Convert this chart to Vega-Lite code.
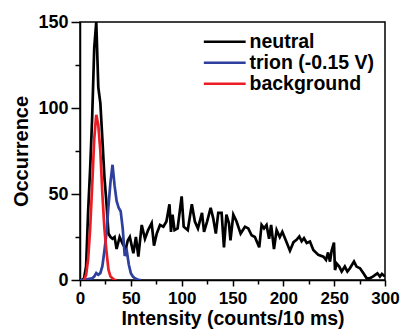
{
  "$schema": "https://vega.github.io/schema/vega-lite/v6.json",
  "width": 305,
  "height": 258,
  "autosize": {"type": "none"},
  "padding": {"left": 80, "top": 22, "right": 16, "bottom": 52},
  "background": "white",
  "config": {
    "font": "Liberation Sans",
    "view": {"stroke": "black", "strokeWidth": 1.5},
    "axis": {
      "domainColor": "black", "domainWidth": 1.5, "tickColor": "black", "tickWidth": 1.5,
      "labelColor": "black", "labelFont": "Liberation Sans", "labelFontWeight": "bold", "labelFontSize": 18,
      "titleColor": "black", "titleFont": "Liberation Sans", "titleFontWeight": "bold", "titleFontSize": 20,
      "grid": false, "labelFlush": false, "labelOverlap": false
    },
    "legend": {
      "labelFont": "Liberation Sans", "labelFontWeight": "bold", "labelFontSize": 19.5, "labelColor": "black"
    }
  },
  "data": {"values": [
    {"series":"neutral","x":0,"y":0},{"series":"neutral","x":2,"y":0},{"series":"neutral","x":4,"y":1},{"series":"neutral","x":6,"y":8},{"series":"neutral","x":8,"y":40},{"series":"neutral","x":10,"y":65},{"series":"neutral","x":12,"y":95},{"series":"neutral","x":14,"y":135},{"series":"neutral","x":16,"y":150},{"series":"neutral","x":18,"y":112},{"series":"neutral","x":20,"y":103},{"series":"neutral","x":22,"y":82},{"series":"neutral","x":24,"y":60},{"series":"neutral","x":26,"y":45},{"series":"neutral","x":28,"y":27},{"series":"neutral","x":30,"y":25},{"series":"neutral","x":32,"y":24},{"series":"neutral","x":34,"y":25},{"series":"neutral","x":36,"y":18},{"series":"neutral","x":39,"y":25},{"series":"neutral","x":42,"y":21},{"series":"neutral","x":45,"y":18},{"series":"neutral","x":47,"y":23},{"series":"neutral","x":49,"y":25},{"series":"neutral","x":52.5,"y":15.6},{"series":"neutral","x":55,"y":25},{"series":"neutral","x":57.4,"y":13.6},{"series":"neutral","x":60.7,"y":32},{"series":"neutral","x":63.9,"y":24},{"series":"neutral","x":67,"y":29},{"series":"neutral","x":70.5,"y":33},{"series":"neutral","x":72.8,"y":20},{"series":"neutral","x":75.5,"y":27},{"series":"neutral","x":78.7,"y":32},{"series":"neutral","x":82,"y":31},{"series":"neutral","x":85,"y":34},{"series":"neutral","x":88,"y":44},{"series":"neutral","x":89.5,"y":28},{"series":"neutral","x":91,"y":38},{"series":"neutral","x":93,"y":29},{"series":"neutral","x":96,"y":30},{"series":"neutral","x":100,"y":48.6},{"series":"neutral","x":102,"y":31},{"series":"neutral","x":106,"y":29},{"series":"neutral","x":110,"y":44},{"series":"neutral","x":113,"y":34},{"series":"neutral","x":116,"y":30},{"series":"neutral","x":120,"y":39},{"series":"neutral","x":122,"y":28},{"series":"neutral","x":125,"y":34},{"series":"neutral","x":128.5,"y":42},{"series":"neutral","x":131,"y":36},{"series":"neutral","x":133.6,"y":27},{"series":"neutral","x":136,"y":39},{"series":"neutral","x":139.3,"y":39},{"series":"neutral","x":141.6,"y":19},{"series":"neutral","x":144,"y":38},{"series":"neutral","x":146.5,"y":33},{"series":"neutral","x":148,"y":23},{"series":"neutral","x":150.8,"y":38},{"series":"neutral","x":154,"y":34},{"series":"neutral","x":158,"y":27},{"series":"neutral","x":162.3,"y":31},{"series":"neutral","x":165.5,"y":30},{"series":"neutral","x":168.8,"y":26},{"series":"neutral","x":172,"y":25},{"series":"neutral","x":176.3,"y":19},{"series":"neutral","x":178.6,"y":32},{"series":"neutral","x":181,"y":30},{"series":"neutral","x":183.5,"y":32},{"series":"neutral","x":186,"y":24},{"series":"neutral","x":188,"y":32},{"series":"neutral","x":190.8,"y":18},{"series":"neutral","x":193.4,"y":29},{"series":"neutral","x":196.5,"y":25},{"series":"neutral","x":199,"y":28},{"series":"neutral","x":202.5,"y":23},{"series":"neutral","x":206.5,"y":17},{"series":"neutral","x":210,"y":22},{"series":"neutral","x":213,"y":23.4},{"series":"neutral","x":215.7,"y":25.3},{"series":"neutral","x":218,"y":22.5},{"series":"neutral","x":220.3,"y":24.3},{"series":"neutral","x":223,"y":21.5},{"series":"neutral","x":226.2,"y":22.4},{"series":"neutral","x":229.5,"y":17.5},{"series":"neutral","x":234.4,"y":14.6},{"series":"neutral","x":239.4,"y":13.6},{"series":"neutral","x":242,"y":11.7},{"series":"neutral","x":244,"y":16},{"series":"neutral","x":245.9,"y":10.7},{"series":"neutral","x":247.5,"y":17},{"series":"neutral","x":249.8,"y":21.8},{"series":"neutral","x":250.8,"y":5.8},{"series":"neutral","x":252.5,"y":9.5},{"series":"neutral","x":255,"y":7.8},{"series":"neutral","x":257.4,"y":4.9},{"series":"neutral","x":260.5,"y":7.8},{"series":"neutral","x":263,"y":4.9},{"series":"neutral","x":265.5,"y":6.8},{"series":"neutral","x":269.5,"y":10.7},{"series":"neutral","x":272,"y":7.8},{"series":"neutral","x":275.4,"y":6.8},{"series":"neutral","x":278.8,"y":3.9},{"series":"neutral","x":282,"y":1},{"series":"neutral","x":285,"y":1},{"series":"neutral","x":288,"y":2},{"series":"neutral","x":292.5,"y":3.9},{"series":"neutral","x":295,"y":2},{"series":"neutral","x":297,"y":3.5},{"series":"neutral","x":300,"y":2},
    {"series":"trion (-0.15 V)","x":0,"y":0},{"series":"trion (-0.15 V)","x":4,"y":0},{"series":"trion (-0.15 V)","x":8,"y":0.5},{"series":"trion (-0.15 V)","x":12,"y":1},{"series":"trion (-0.15 V)","x":14,"y":2},{"series":"trion (-0.15 V)","x":16,"y":4},{"series":"trion (-0.15 V)","x":18,"y":3},{"series":"trion (-0.15 V)","x":20,"y":4},{"series":"trion (-0.15 V)","x":22,"y":8},{"series":"trion (-0.15 V)","x":24,"y":17},{"series":"trion (-0.15 V)","x":26,"y":27},{"series":"trion (-0.15 V)","x":28,"y":43},{"series":"trion (-0.15 V)","x":30,"y":57},{"series":"trion (-0.15 V)","x":32,"y":67},{"series":"trion (-0.15 V)","x":34,"y":55},{"series":"trion (-0.15 V)","x":36,"y":46},{"series":"trion (-0.15 V)","x":38,"y":42},{"series":"trion (-0.15 V)","x":40,"y":40},{"series":"trion (-0.15 V)","x":42,"y":30},{"series":"trion (-0.15 V)","x":44,"y":14},{"series":"trion (-0.15 V)","x":46,"y":17},{"series":"trion (-0.15 V)","x":48,"y":9},{"series":"trion (-0.15 V)","x":50,"y":4},{"series":"trion (-0.15 V)","x":52,"y":2},{"series":"trion (-0.15 V)","x":54,"y":1},{"series":"trion (-0.15 V)","x":56,"y":0.5},{"series":"trion (-0.15 V)","x":58,"y":0},{"series":"trion (-0.15 V)","x":60,"y":0},
    {"series":"background","x":4,"y":0},{"series":"background","x":6,"y":3},{"series":"background","x":8,"y":12},{"series":"background","x":10,"y":30},{"series":"background","x":12,"y":55},{"series":"background","x":14,"y":82},{"series":"background","x":16,"y":96},{"series":"background","x":18,"y":90},{"series":"background","x":20,"y":75},{"series":"background","x":22,"y":50},{"series":"background","x":24,"y":30},{"series":"background","x":26,"y":17},{"series":"background","x":28,"y":6},{"series":"background","x":30,"y":2},{"series":"background","x":32,"y":1},{"series":"background","x":34,"y":0},{"series":"background","x":36,"y":0}
  ]},
  "encoding": {
    "x": {"field": "x", "type": "quantitative", "scale": {"domain": [0, 300], "nice": false},
      "axis": {"title": "Intensity (counts/10 ms)", "values": [0,25,50,75,100,125,150,175,200,225,250,275,300],
        "labelExpr": "datum.value % 50 === 0 ? datum.label : ''",
        "tickSize": {"condition": {"test": "datum.value % 50 === 0", "value": 6}, "value": 4},
        "labelFontSize": 17, "titleFontSize": 19.5, "labelPadding": 4, "titlePadding": 3}},
    "y": {"field": "y", "type": "quantitative", "scale": {"domain": [0, 150], "nice": false},
      "axis": {"title": "Occurrence", "values": [0,25,50,75,100,125,150],
        "labelExpr": "datum.value % 50 === 0 ? datum.label : ''",
        "tickSize": {"condition": {"test": "datum.value % 50 === 0", "value": 9}, "value": 5},
        "labelPadding": 3, "titlePadding": 6}},
    "color": {"field": "series", "type": "nominal",
      "scale": {"domain": ["neutral", "trion (-0.15 V)", "background"], "range": ["#000000", "#2e3f9e", "#ec1c24"]},
      "legend": {"title": null, "orient": "none", "legendX": 135, "legendY": 10,
        "symbolType": "M-5,0H5", "symbolSize": 70, "symbolStrokeWidth": 2.5, "symbolFillColor": "transparent",
        "labelOffset": 15, "rowPadding": 0}}
  },
  "layer": [
    {"transform": [{"filter": "datum.series === 'neutral'"}], "mark": {"type": "line", "strokeWidth": 2.7, "clip": true}},
    {"transform": [{"filter": "datum.series === 'trion (-0.15 V)'"}], "mark": {"type": "line", "strokeWidth": 2.7, "clip": true}},
    {"transform": [{"filter": "datum.series === 'background'"}], "mark": {"type": "line", "strokeWidth": 2.7, "clip": true}}
  ]
}
